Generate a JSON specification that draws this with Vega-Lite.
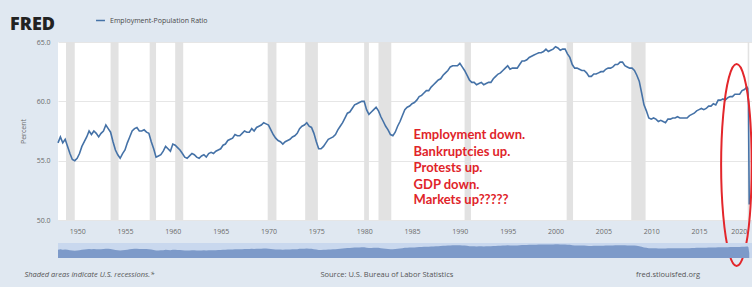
{
  "$schema": "https://vega.github.io/schema/vega-lite/v6.json",
  "autosize": {"type": "pad"},
  "padding": {"left": 10, "top": 15, "right": 0, "bottom": 7},
  "background": "#e0e8f1",
  "config": {
    "font": "Open Sans",
    "view": {"stroke": null},
    "axis": {"labelFont": "Open Sans", "titleFont": "Open Sans"}
  },
  "title": {"text": "FRED", "anchor": "start", "frame": "group", "dx": -48, "dy": 19, "fontSize": 18, "fontWeight": 800, "font": "Open Sans", "color": "#222222", "offset": 0},
  "datasets": {
    "emp": [
      {"d":"1948-01-01","v":56.5},{"d":"1948-04-01","v":57.0},{"d":"1948-07-01","v":56.5},{"d":"1948-10-01","v":56.8},
      {"d":"1949-01-01","v":56.2},{"d":"1949-04-01","v":55.6},{"d":"1949-07-01","v":55.1},{"d":"1949-10-01","v":55.0},
      {"d":"1950-01-01","v":55.2},{"d":"1950-04-01","v":55.6},{"d":"1950-07-01","v":56.2},{"d":"1950-10-01","v":56.6},
      {"d":"1951-01-01","v":57.0},{"d":"1951-04-01","v":57.5},{"d":"1951-07-01","v":57.2},{"d":"1951-10-01","v":57.5},
      {"d":"1952-01-01","v":57.3},{"d":"1952-04-01","v":57.0},{"d":"1952-07-01","v":57.3},{"d":"1952-10-01","v":57.5},
      {"d":"1953-01-01","v":58.0},{"d":"1953-04-01","v":57.7},{"d":"1953-07-01","v":57.4},{"d":"1953-10-01","v":56.6},
      {"d":"1954-01-01","v":55.9},{"d":"1954-04-01","v":55.5},{"d":"1954-07-01","v":55.2},{"d":"1954-10-01","v":55.6},
      {"d":"1955-01-01","v":55.9},{"d":"1955-04-01","v":56.5},{"d":"1955-07-01","v":57.0},{"d":"1955-10-01","v":57.5},
      {"d":"1956-01-01","v":57.7},{"d":"1956-04-01","v":57.8},{"d":"1956-07-01","v":57.5},{"d":"1956-10-01","v":57.5},
      {"d":"1957-01-01","v":57.6},{"d":"1957-04-01","v":57.4},{"d":"1957-07-01","v":57.3},{"d":"1957-10-01","v":56.6},
      {"d":"1958-01-01","v":56.0},{"d":"1958-04-01","v":55.3},{"d":"1958-07-01","v":55.4},{"d":"1958-10-01","v":55.5},
      {"d":"1959-01-01","v":55.8},{"d":"1959-04-01","v":56.2},{"d":"1959-07-01","v":56.0},{"d":"1959-10-01","v":55.8},
      {"d":"1960-01-01","v":56.4},{"d":"1960-04-01","v":56.3},{"d":"1960-07-01","v":56.1},{"d":"1960-10-01","v":55.9},
      {"d":"1961-01-01","v":55.6},{"d":"1961-04-01","v":55.3},{"d":"1961-07-01","v":55.2},{"d":"1961-10-01","v":55.4},
      {"d":"1962-01-01","v":55.6},{"d":"1962-04-01","v":55.5},{"d":"1962-07-01","v":55.3},{"d":"1962-10-01","v":55.2},
      {"d":"1963-01-01","v":55.4},{"d":"1963-04-01","v":55.5},{"d":"1963-07-01","v":55.3},{"d":"1963-10-01","v":55.6},
      {"d":"1964-01-01","v":55.7},{"d":"1964-04-01","v":55.6},{"d":"1964-07-01","v":55.8},{"d":"1964-10-01","v":55.9},
      {"d":"1965-01-01","v":56.0},{"d":"1965-04-01","v":56.3},{"d":"1965-07-01","v":56.4},{"d":"1965-10-01","v":56.7},
      {"d":"1966-01-01","v":56.8},{"d":"1966-04-01","v":56.9},{"d":"1966-07-01","v":57.2},{"d":"1966-10-01","v":57.1},
      {"d":"1967-01-01","v":57.1},{"d":"1967-04-01","v":57.3},{"d":"1967-07-01","v":57.5},{"d":"1967-10-01","v":57.4},
      {"d":"1968-01-01","v":57.4},{"d":"1968-04-01","v":57.7},{"d":"1968-07-01","v":57.5},{"d":"1968-10-01","v":57.8},
      {"d":"1969-01-01","v":57.9},{"d":"1969-04-01","v":58.0},{"d":"1969-07-01","v":58.2},{"d":"1969-10-01","v":58.1},
      {"d":"1970-01-01","v":58.0},{"d":"1970-04-01","v":57.6},{"d":"1970-07-01","v":57.2},{"d":"1970-10-01","v":56.9},
      {"d":"1971-01-01","v":56.7},{"d":"1971-04-01","v":56.6},{"d":"1971-07-01","v":56.4},{"d":"1971-10-01","v":56.6},
      {"d":"1972-01-01","v":56.7},{"d":"1972-04-01","v":56.8},{"d":"1972-07-01","v":57.0},{"d":"1972-10-01","v":57.1},
      {"d":"1973-01-01","v":57.3},{"d":"1973-04-01","v":57.7},{"d":"1973-07-01","v":57.9},{"d":"1973-10-01","v":58.0},
      {"d":"1974-01-01","v":58.2},{"d":"1974-04-01","v":57.9},{"d":"1974-07-01","v":57.8},{"d":"1974-10-01","v":57.3},
      {"d":"1975-01-01","v":56.6},{"d":"1975-04-01","v":56.0},{"d":"1975-07-01","v":56.0},{"d":"1975-10-01","v":56.2},
      {"d":"1976-01-01","v":56.5},{"d":"1976-04-01","v":56.8},{"d":"1976-07-01","v":56.9},{"d":"1976-10-01","v":57.0},
      {"d":"1977-01-01","v":57.2},{"d":"1977-04-01","v":57.6},{"d":"1977-07-01","v":57.9},{"d":"1977-10-01","v":58.2},
      {"d":"1978-01-01","v":58.6},{"d":"1978-04-01","v":59.0},{"d":"1978-07-01","v":59.1},{"d":"1978-10-01","v":59.4},
      {"d":"1979-01-01","v":59.7},{"d":"1979-04-01","v":59.8},{"d":"1979-07-01","v":59.9},{"d":"1979-10-01","v":60.0},
      {"d":"1980-01-01","v":60.0},{"d":"1980-04-01","v":59.3},{"d":"1980-07-01","v":58.9},{"d":"1980-10-01","v":59.1},
      {"d":"1981-01-01","v":59.3},{"d":"1981-04-01","v":59.5},{"d":"1981-07-01","v":59.2},{"d":"1981-10-01","v":58.7},
      {"d":"1982-01-01","v":58.3},{"d":"1982-04-01","v":57.9},{"d":"1982-07-01","v":57.6},{"d":"1982-10-01","v":57.2},
      {"d":"1983-01-01","v":57.1},{"d":"1983-04-01","v":57.4},{"d":"1983-07-01","v":57.9},{"d":"1983-10-01","v":58.3},
      {"d":"1984-01-01","v":58.8},{"d":"1984-04-01","v":59.3},{"d":"1984-07-01","v":59.5},{"d":"1984-10-01","v":59.6},
      {"d":"1985-01-01","v":59.8},{"d":"1985-04-01","v":59.9},{"d":"1985-07-01","v":60.1},{"d":"1985-10-01","v":60.4},
      {"d":"1986-01-01","v":60.5},{"d":"1986-04-01","v":60.7},{"d":"1986-07-01","v":60.9},{"d":"1986-10-01","v":60.9},
      {"d":"1987-01-01","v":61.2},{"d":"1987-04-01","v":61.4},{"d":"1987-07-01","v":61.6},{"d":"1987-10-01","v":61.8},
      {"d":"1988-01-01","v":61.9},{"d":"1988-04-01","v":62.2},{"d":"1988-07-01","v":62.4},{"d":"1988-10-01","v":62.6},
      {"d":"1989-01-01","v":62.9},{"d":"1989-04-01","v":63.0},{"d":"1989-07-01","v":63.0},{"d":"1989-10-01","v":63.0},
      {"d":"1990-01-01","v":63.2},{"d":"1990-04-01","v":62.9},{"d":"1990-07-01","v":62.6},{"d":"1990-10-01","v":62.2},
      {"d":"1991-01-01","v":61.8},{"d":"1991-04-01","v":61.6},{"d":"1991-07-01","v":61.6},{"d":"1991-10-01","v":61.4},
      {"d":"1992-01-01","v":61.5},{"d":"1992-04-01","v":61.6},{"d":"1992-07-01","v":61.4},{"d":"1992-10-01","v":61.5},
      {"d":"1993-01-01","v":61.6},{"d":"1993-04-01","v":61.6},{"d":"1993-07-01","v":61.9},{"d":"1993-10-01","v":62.1},
      {"d":"1994-01-01","v":62.3},{"d":"1994-04-01","v":62.4},{"d":"1994-07-01","v":62.6},{"d":"1994-10-01","v":62.8},
      {"d":"1995-01-01","v":63.0},{"d":"1995-04-01","v":62.7},{"d":"1995-07-01","v":62.8},{"d":"1995-10-01","v":62.8},
      {"d":"1996-01-01","v":62.8},{"d":"1996-04-01","v":63.1},{"d":"1996-07-01","v":63.4},{"d":"1996-10-01","v":63.4},
      {"d":"1997-01-01","v":63.5},{"d":"1997-04-01","v":63.7},{"d":"1997-07-01","v":63.8},{"d":"1997-10-01","v":63.9},
      {"d":"1998-01-01","v":64.0},{"d":"1998-04-01","v":64.1},{"d":"1998-07-01","v":64.1},{"d":"1998-10-01","v":64.2},
      {"d":"1999-01-01","v":64.4},{"d":"1999-04-01","v":64.2},{"d":"1999-07-01","v":64.3},{"d":"1999-10-01","v":64.4},
      {"d":"2000-01-01","v":64.6},{"d":"2000-04-01","v":64.5},{"d":"2000-07-01","v":64.3},{"d":"2000-10-01","v":64.4},
      {"d":"2001-01-01","v":64.4},{"d":"2001-04-01","v":64.0},{"d":"2001-07-01","v":63.7},{"d":"2001-10-01","v":63.1},
      {"d":"2002-01-01","v":62.8},{"d":"2002-04-01","v":62.8},{"d":"2002-07-01","v":62.7},{"d":"2002-10-01","v":62.6},
      {"d":"2003-01-01","v":62.6},{"d":"2003-04-01","v":62.4},{"d":"2003-07-01","v":62.1},{"d":"2003-10-01","v":62.1},
      {"d":"2004-01-01","v":62.3},{"d":"2004-04-01","v":62.3},{"d":"2004-07-01","v":62.4},{"d":"2004-10-01","v":62.5},
      {"d":"2005-01-01","v":62.5},{"d":"2005-04-01","v":62.7},{"d":"2005-07-01","v":62.8},{"d":"2005-10-01","v":62.8},
      {"d":"2006-01-01","v":62.9},{"d":"2006-04-01","v":63.1},{"d":"2006-07-01","v":63.1},{"d":"2006-10-01","v":63.3},
      {"d":"2007-01-01","v":63.3},{"d":"2007-04-01","v":63.0},{"d":"2007-07-01","v":62.9},{"d":"2007-10-01","v":62.8},
      {"d":"2008-01-01","v":62.8},{"d":"2008-04-01","v":62.6},{"d":"2008-07-01","v":62.2},{"d":"2008-10-01","v":61.7},
      {"d":"2009-01-01","v":60.7},{"d":"2009-04-01","v":59.7},{"d":"2009-07-01","v":59.2},{"d":"2009-10-01","v":58.6},
      {"d":"2010-01-01","v":58.5},{"d":"2010-04-01","v":58.6},{"d":"2010-07-01","v":58.5},{"d":"2010-10-01","v":58.3},
      {"d":"2011-01-01","v":58.4},{"d":"2011-04-01","v":58.3},{"d":"2011-07-01","v":58.2},{"d":"2011-10-01","v":58.5},
      {"d":"2012-01-01","v":58.5},{"d":"2012-04-01","v":58.6},{"d":"2012-07-01","v":58.6},{"d":"2012-10-01","v":58.7},
      {"d":"2013-01-01","v":58.6},{"d":"2013-04-01","v":58.6},{"d":"2013-07-01","v":58.6},{"d":"2013-10-01","v":58.6},
      {"d":"2014-01-01","v":58.8},{"d":"2014-04-01","v":58.9},{"d":"2014-07-01","v":59.0},{"d":"2014-10-01","v":59.2},
      {"d":"2015-01-01","v":59.3},{"d":"2015-04-01","v":59.4},{"d":"2015-07-01","v":59.3},{"d":"2015-10-01","v":59.4},
      {"d":"2016-01-01","v":59.6},{"d":"2016-04-01","v":59.6},{"d":"2016-07-01","v":59.8},{"d":"2016-10-01","v":59.7},
      {"d":"2017-01-01","v":60.1},{"d":"2017-04-01","v":60.1},{"d":"2017-07-01","v":60.2},{"d":"2017-10-01","v":60.1},
      {"d":"2018-01-01","v":60.3},{"d":"2018-04-01","v":60.4},{"d":"2018-07-01","v":60.4},{"d":"2018-10-01","v":60.6},
      {"d":"2019-01-01","v":60.6},{"d":"2019-04-01","v":60.6},{"d":"2019-07-01","v":60.9},{"d":"2019-10-01","v":61.0},
      {"d":"2020-01-01","v":61.2},{"d":"2020-02-01","v":61.1},{"d":"2020-03-01","v":60.0},{"d":"2020-04-01","v":51.3}
    ],
    "rec": [
      {"s":"1948-11-01","e":"1949-10-01"},{"s":"1953-07-01","e":"1954-05-01"},{"s":"1957-08-01","e":"1958-04-01"},
      {"s":"1960-04-01","e":"1961-02-01"},{"s":"1969-12-01","e":"1970-11-01"},{"s":"1973-11-01","e":"1975-03-01"},
      {"s":"1980-01-01","e":"1980-07-01"},{"s":"1981-07-01","e":"1982-11-01"},{"s":"1990-07-01","e":"1991-03-01"},
      {"s":"2001-03-01","e":"2001-11-01"},{"s":"2007-12-01","e":"2009-06-01"},{"s":"2020-02-01","e":"2020-04-01"}
    ],
    "note": [
      {"d":"1985-03-01","v":57.16,"t":"Employment down."},
      {"d":"1985-03-01","v":55.73,"t":"Bankruptcies up."},
      {"d":"1985-03-01","v":54.38,"t":"Protests up."},
      {"d":"1985-03-01","v":52.95,"t":"GDP down."},
      {"d":"1985-03-01","v":51.69,"t":"Markets up?????"}
    ],
    "ell": [
      {"i":0,"d":"2020-07-01","v":54.63},{"i":1,"d":"2020-04-25","v":58.89},{"i":2,"d":"2019-09-27","v":62.0},
      {"i":3,"d":"2018-12-05","v":63.14},{"i":4,"d":"2018-02-14","v":62.0},{"i":5,"d":"2017-07-13","v":58.89},
      {"i":6,"d":"2017-04-23","v":54.63},{"i":7,"d":"2017-07-13","v":50.38},{"i":8,"d":"2018-02-14","v":47.26},
      {"i":9,"d":"2018-12-05","v":46.12},{"i":10,"d":"2019-09-27","v":47.26},{"i":11,"d":"2020-04-25","v":50.38}
    ],
    "foot1": [{"d":"1944-06-28","t":"Shaded areas indicate U.S. recessions.*"}],
    "foot2": [{"d":"1975-06-05","t":"Source: U.S. Bureau of Labor Statistics"},{"d":"2008-06-01","t":"fred.stlouisfed.org"}]
  },
  "vconcat": [
    {
      "width": 694,
      "height": 178,
      "view": {"fill": "#ffffff", "stroke": null},
      "layer": [
        {
          "data": {"name": "rec"},
          "mark": {"type": "rect", "color": "#e2e2e2"},
          "encoding": {
            "x": {"field": "s", "type": "temporal"},
            "x2": {"field": "e"}
          }
        },
        {
          "data": {"name": "emp"},
          "mark": {"type": "line", "strokeWidth": 1.6},
          "encoding": {
            "x": {"field": "d", "type": "temporal",
                  "scale": {"domain": [{"year": 1948, "month": 1, "date": 1}, {"year": 2020, "month": 7, "date": 15}], "nice": false},
                  "axis": {"title": null, "format": "%Y", "tickCount": {"interval": "year", "step": 5}, "grid": false, "ticks": false, "domain": false,
                           "labelFontSize": 7, "labelColor": "#6a6a6a", "labelPadding": 7, "labelFlush": 8}},
            "y": {"field": "v", "type": "quantitative",
                  "scale": {"domain": [50, 65], "nice": false, "zero": false},
                  "axis": {"title": "Percent", "values": [50, 52.5, 55, 57.5, 60, 62.5, 65], "format": ".1f", "grid": true, "gridColor": "#e6e6e6",
                           "ticks": false, "domain": false, "labelFontSize": 7, "labelColor": "#6a6a6a", "labelPadding": 8,
                           "titleFontSize": 7, "titleFontWeight": "normal", "titleColor": "#6a6a6a", "titlePadding": 10}},
            "color": {"datum": "Employment-Population Ratio", "type": "nominal",
                      "scale": {"range": ["#4572a7"]},
                      "legend": {"orient": "none", "legendX": 37, "legendY": -27, "title": null, "symbolType": "stroke",
                                 "symbolStrokeWidth": 1.5, "symbolSize": 80, "labelFontSize": 7, "labelColor": "#4a4a4a", "padding": 0}}
          }
        },
        {
          "data": {"name": "note"},
          "mark": {"type": "text", "align": "left", "baseline": "middle", "font": "Lato", "fontWeight": "bold", "fontSize": 13, "color": "#e0242a"},
          "encoding": {
            "x": {"field": "d", "type": "temporal"},
            "y": {"field": "v", "type": "quantitative"},
            "text": {"field": "t"}
          }
        },
        {
          "data": {"name": "ell"},
          "mark": {"type": "line", "interpolate": "cardinal-closed", "clip": false, "color": "#e3262b", "strokeWidth": 2},
          "encoding": {
            "x": {"field": "d", "type": "temporal"},
            "y": {"field": "v", "type": "quantitative"},
            "order": {"field": "i"}
          }
        }
      ]
    },
    {
      "vconcat": [
        {
          "width": 694,
          "height": 15,
          "view": {"fill": "#c9d8ee", "stroke": null},
          "data": {"name": "emp"},
          "mark": {"type": "area", "color": "#7d9ac9"},
          "encoding": {
            "x": {"field": "d", "type": "temporal", "axis": null,
                  "scale": {"domain": [{"year": 1948, "month": 1, "date": 1}, {"year": 2020, "month": 7, "date": 15}], "nice": false}},
            "y": {"field": "v", "type": "quantitative", "axis": null, "scale": {"domain": [44, 66.5], "zero": false, "nice": false}},
            "y2": {"datum": 44}
          }
        },
        {
          "width": 694,
          "height": 10,
          "view": {"fill": null, "stroke": null},
          "layer": [
            {
              "data": {"name": "foot1"},
              "mark": {"type": "text", "align": "left", "baseline": "middle", "fontSize": 7.5, "fontStyle": "italic", "color": "#555555", "clip": false},
              "encoding": {
                "x": {"field": "d", "type": "temporal", "axis": null,
                      "scale": {"domain": [{"year": 1948, "month": 1, "date": 1}, {"year": 2020, "month": 7, "date": 15}], "nice": false}},
                "text": {"field": "t"}
              }
            },
            {
              "data": {"name": "foot2"},
              "mark": {"type": "text", "align": "left", "baseline": "middle", "fontSize": 7.5, "color": "#555555", "clip": false},
              "encoding": {
                "x": {"field": "d", "type": "temporal", "axis": null},
                "text": {"field": "t"}
              }
            }
          ]
        }
      ],
      "spacing": 12,
      "bounds": "flush",
      "resolve": {"scale": {"x": "independent", "y": "independent"}}
    }
  ],
  "spacing": 23,
  "bounds": "flush",
  "resolve": {"scale": {"x": "independent", "y": "independent", "color": "independent"}}
}
